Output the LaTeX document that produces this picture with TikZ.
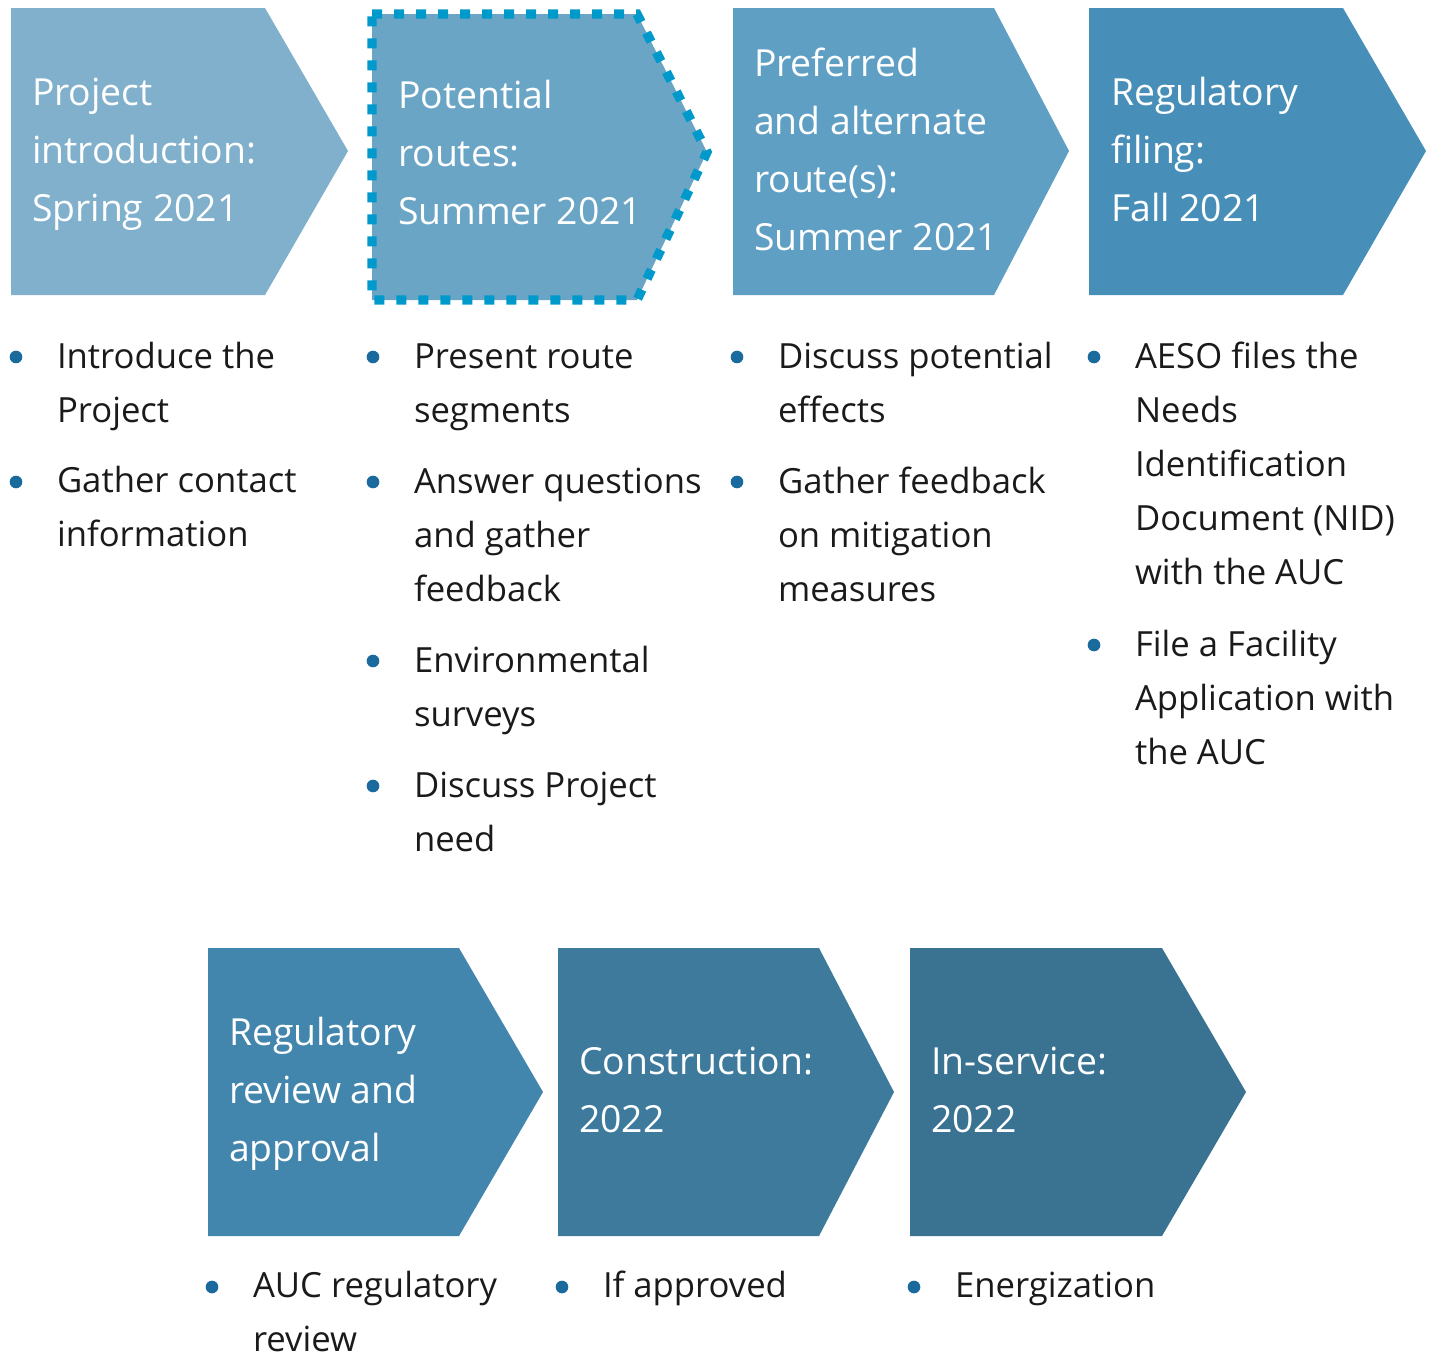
\documentclass[tikz,border=0pt]{standalone}
\usepackage{fontspec}
\setmainfont{Open Sans}
\definecolor{cA}{HTML}{80B0CC}
\definecolor{cB}{HTML}{6BA5C5}
\definecolor{cC}{HTML}{5F9FC3}
\definecolor{cD}{HTML}{478FB8}
\definecolor{cE}{HTML}{4285AD}
\definecolor{cF}{HTML}{3D7A9C}
\definecolor{cG}{HTML}{3A7292}
\definecolor{dashc}{HTML}{0099CC}
\definecolor{dotc}{HTML}{1B6A9E}
\definecolor{txtc}{HTML}{1A1A1A}
\begin{document}
\begin{tikzpicture}[x=0.75pt,y=-0.75pt,
  chevtext/.style={anchor=base west,inner sep=0pt,outer sep=0pt,text=white,align=left,
    font=\fontsize{28}{43.5}\selectfont},
  itemtext/.style={anchor=base west,inner sep=0pt,outer sep=0pt,text=txtc,align=left,
    font=\fontsize{26}{40.5}\selectfont},
  bdot/.style={circle,fill=dotc,inner sep=0pt,minimum size=9.5pt},
  hilite/.style={draw=dashc,line width=7pt,dash pattern=on 7.5pt off 9pt}]
\useasboundingbox (0,0) rectangle (1433,1353);
\clip (0,0) rectangle (1433,1353);
% chevrons
\fill[cA] (11,8) -- (265,8) -- (348,151) -- (265,295) -- (11,295) -- cycle;
\fill[cB] (372,14) -- (637,14) -- (707,152) -- (637,300) -- (372,300) -- cycle;
\draw[hilite] (372,14) -- (637,14) -- (707,152) -- (637,300) -- (372,300) -- cycle;
\fill[cC] (733,8) -- (994,8) -- (1069,151) -- (994,295) -- (733,295) -- cycle;
\fill[cD] (1089,8) -- (1343,8) -- (1426,151) -- (1343,295) -- (1089,295) -- cycle;
\fill[cE] (208,948) -- (459,948) -- (543,1092) -- (459,1236) -- (208,1236) -- cycle;
\fill[cF] (558,948) -- (819,948) -- (894,1092) -- (819,1236) -- (558,1236) -- cycle;
\fill[cG] (910,948) -- (1162,948) -- (1246,1092) -- (1162,1236) -- (910,1236) -- cycle;
% chevron texts (anchored at the baseline of the last line)
\node[chevtext] (t1) at (32,221) {Project\\introduction:\\Spring 2021};
\node[chevtext] (t2) at (398,224) {Potential\\routes:\\Summer 2021};
\node[chevtext] (t3) at (754,250) {Preferred\\and alternate\\route(s):\\Summer 2021};
\node[chevtext] (t4) at (1111,221) {Regulatory\\filing:\\Fall 2021};
\node[chevtext] (t5) at (229,1161) {Regulatory\\review and\\approval};
\node[chevtext] (t6) at (579,1132) {Construction:\\2022};
\node[chevtext] (t7) at (931,1132) {In-service:\\2022};
% column 1
\node[bdot] (d11) at (16,357) {};
\node[itemtext] (i11) at (57,422) {Introduce the\\Project};
\node[bdot] (d12) at (16,482) {};
\node[itemtext] (i12) at (57,546) {Gather contact\\information};
% column 2
\node[bdot] (d21) at (373,357) {};
\node[itemtext] (i21) at (414,422) {Present route\\segments};
\node[bdot] (d22) at (373,482) {};
\node[itemtext] (i22) at (414,601) {Answer questions\\and gather\\feedback};
\node[bdot] (d23) at (373,661) {};
\node[itemtext] (i23) at (414,726) {Environmental\\surveys};
\node[bdot] (d24) at (373,786) {};
\node[itemtext] (i24) at (414,851) {Discuss Project\\need};
% column 3
\node[bdot] (d31) at (737,357) {};
\node[itemtext] (i31) at (778,422) {Discuss potential\\effects};
\node[bdot] (d32) at (737,482) {};
\node[itemtext] (i32) at (778,601) {Gather feedback\\on mitigation\\measures};
% column 4
\node[bdot] (d41) at (1094,357) {};
\node[itemtext] (i41) at (1135,584) {AESO files the\\Needs\\Identification\\Document (NID)\\with the AUC};
\node[bdot] (d42) at (1094,645) {};
\node[itemtext] (i42) at (1135,764) {File a Facility\\Application with\\the AUC};
% bottom row
\node[bdot] (d51) at (212,1287) {};
\node[itemtext] (i51) at (253,1351) {AUC regulatory\\review};
\node[bdot] (d61) at (562,1287) {};
\node[itemtext] (i61) at (603,1297) {If approved};
\node[bdot] (d71) at (914,1287) {};
\node[itemtext] (i71) at (955,1297) {Energization};
\end{tikzpicture}
\end{document}
